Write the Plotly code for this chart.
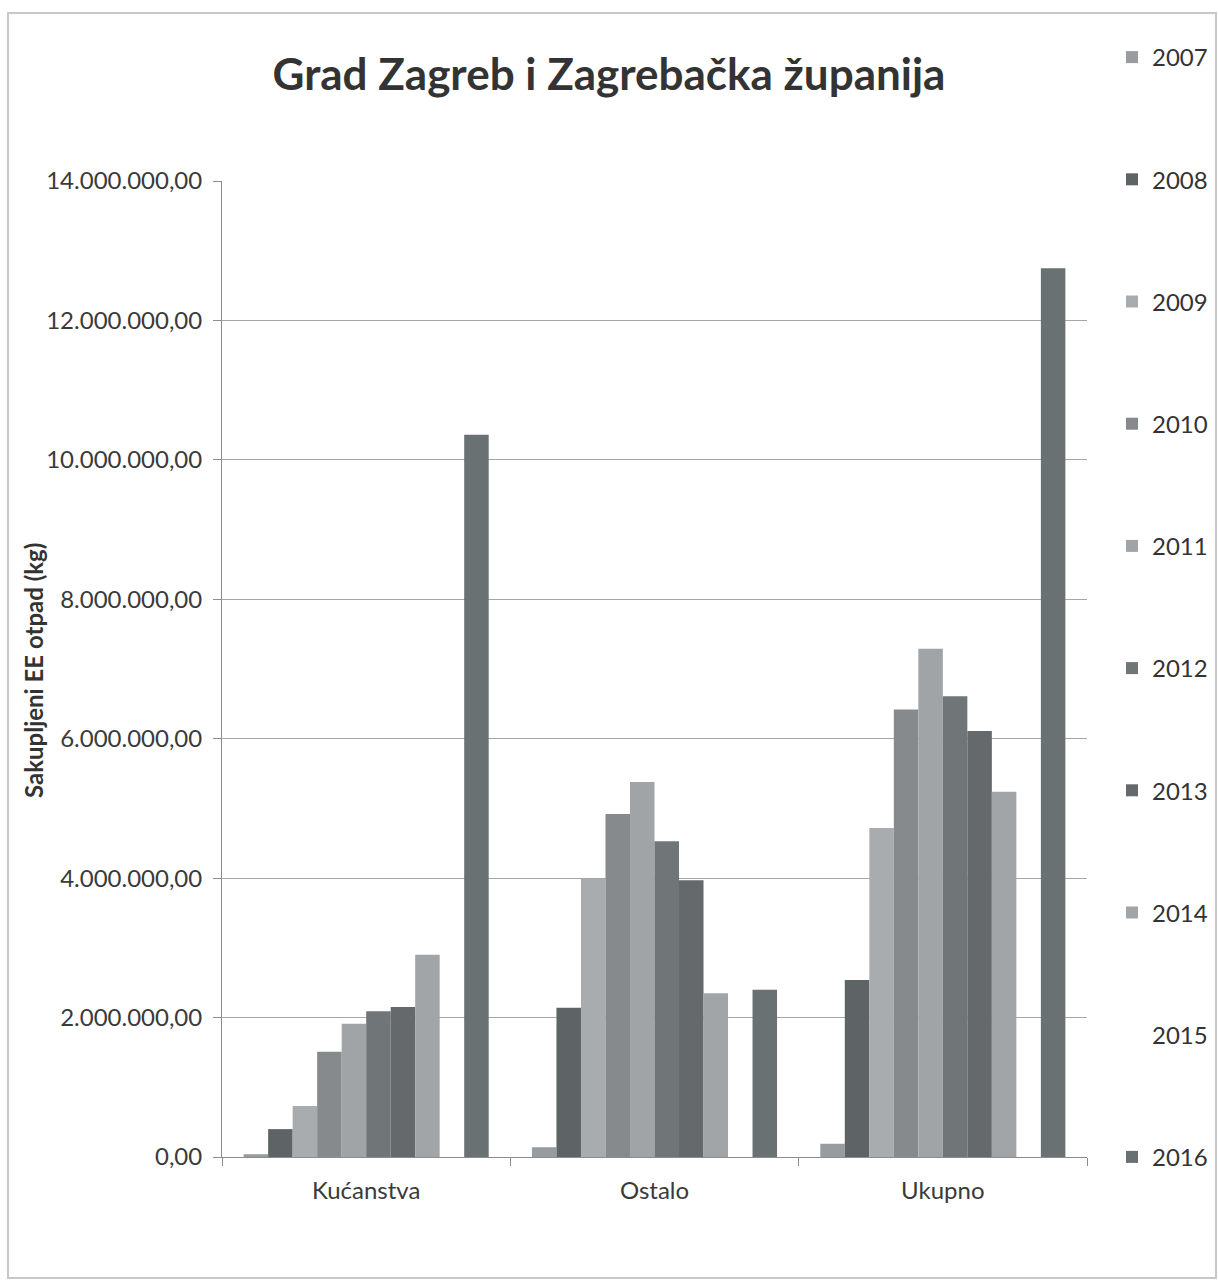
import plotly.graph_objects as go

categories = ["Kućanstva", "Ostalo", "Ukupno"]
years = ["2007", "2008", "2009", "2010", "2011", "2012", "2013", "2014", "2015", "2016"]

# collected EE waste in kg per year: [Kućanstva, Ostalo, Ukupno]
values_2007 = [40000, 140000, 190000]
values_2008 = [400000, 2140000, 2540000]
values_2009 = [730000, 3990000, 4720000]
values_2010 = [1510000, 4920000, 6420000]
values_2011 = [1910000, 5380000, 7290000]
values_2012 = [2090000, 4530000, 6610000]
values_2013 = [2150000, 3970000, 6110000]
values_2014 = [2900000, 2350000, 5240000]
values_2015 = [0, 0, 0]
values_2016 = [10360000, 2400000, 12750000]

series = [
    values_2007, values_2008, values_2009, values_2010, values_2011,
    values_2012, values_2013, values_2014, values_2015, values_2016,
]

colors = [
    "#989c9f", "#5e6366", "#a8acaf", "#868a8d", "#a0a4a7",
    "#707577", "#65696b", "#a2a5a8", "rgba(255,255,255,0)", "#6a7172",
]

W, H = 1218, 1281
L, R, T, B = 222, 131, 181, 124
plot_w = W - L - R
plot_h = H - T - B

fig = go.Figure()

for year, vals, col in zip(years, series, colors):
    fig.add_trace(
        go.Bar(
            x=categories,
            y=vals,
            name=year,
            legendgroup=year,
            marker={"color": col, "line": {"width": 0}},
        )
    )

font_family = "Lato, 'Open Sans', sans-serif"


def px_x(px):
    return (px - L) / plot_w


def px_y(py):
    return (H - B - py) / plot_h


fig.update_layout(
    width=W,
    height=H,
    margin={"l": L, "r": R, "t": T, "b": B, "autoexpand": False},
    paper_bgcolor="white",
    plot_bgcolor="white",
    font={"family": font_family, "size": 24, "color": "#3a3a3a"},
    title={
        "text": "<b>Grad Zagreb i Zagrebačka županija</b>",
        "x": 0.5,
        "xref": "container",
        "xanchor": "center",
        "y": 1 - 75 / H,
        "yanchor": "middle",
        "font": {"size": 44, "color": "#333333", "family": font_family},
    },
    barmode="group",
    bargap=0.15,
    bargroupgap=0,
    showlegend=True,
    legend={
        "x": px_x(1112),
        "xanchor": "left",
        "y": px_y(35),
        "yanchor": "top",
        "traceorder": "grouped",
        "tracegroupgap": 88,
        "maxheight": 1250,
        "font": {"size": 24, "color": "#333333"},
        "bgcolor": "rgba(0,0,0,0)",
    },
    separators=",.",
)

fig.update_yaxes(
    range=[0, 14000000],
    dtick=2000000,
    tickformat=",.2f",
    showgrid=True,
    gridcolor="#a6a6a6",
    gridwidth=1,
    showline=True,
    linecolor="#8c8c8c",
    linewidth=1,
    ticks="outside",
    ticklen=8,
    tickcolor="#8c8c8c",
    ticklabelstandoff=6,
    zeroline=False,
    tickfont={"size": 24, "color": "#3a3a3a"},
)

fig.update_xaxes(
    showline=True,
    linecolor="#8c8c8c",
    linewidth=1,
    ticks="outside",
    tickson="boundaries",
    ticklen=8,
    tickcolor="#8c8c8c",
    ticklabelstandoff=12,
    tickfont={"size": 24, "color": "#3a3a3a"},
    showgrid=False,
)

# y axis title placed by hand, left of the tick labels
fig.add_annotation(
    text="<b>Sakupljeni EE otpad (kg)</b>",
    xref="paper",
    yref="paper",
    x=px_x(33),
    y=px_y(671),
    xanchor="center",
    yanchor="middle",
    textangle=-90,
    showarrow=False,
    font={"size": 24, "color": "#333333"},
)

# outer chart frame
fig.add_shape(
    type="rect",
    xref="paper",
    yref="paper",
    x0=px_x(8),
    x1=px_x(1216),
    y0=px_y(1278),
    y1=px_y(13),
    line={"color": "#c8c8c8", "width": 2},
    fillcolor="rgba(0,0,0,0)",
    layer="below",
)

fig.write_html(
    "out.html",
    config={"displayModeBar": False},
    post_script="document.body.style.margin='0';",
)
